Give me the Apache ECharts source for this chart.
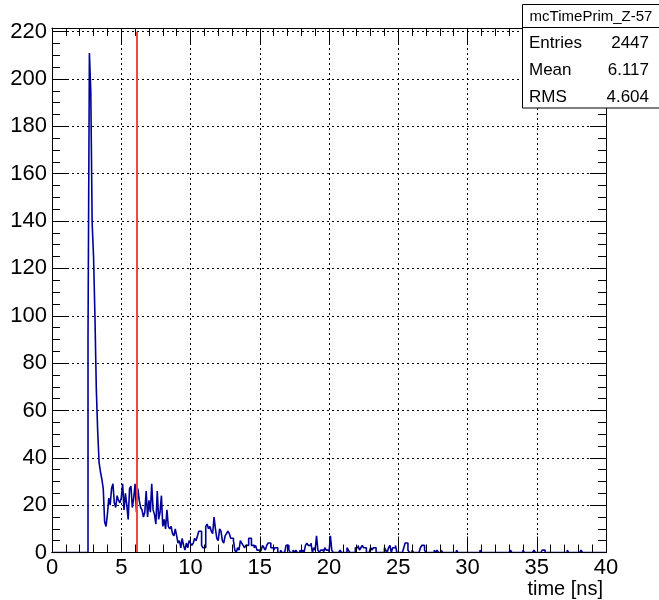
<!DOCTYPE html>
<html>
<head>
<meta charset="utf-8">
<style>
  html, body { margin: 0; padding: 0; background: #fff; }
  #chart { width: 659px; height: 600px; }
</style>
<script src="https://cdn.jsdelivr.net/npm/echarts@6/dist/echarts.min.js"></script>
</head>
<body>
<div id="chart"></div>
<script>
// histogram mcTimePrim_Z-57, 400 bins of 0.1 ns from 0 to 40 ns (one row = 1 ns)
var binWidth = 0.1;
var xMin = 0;
var counts = [].concat(
  [0,0,0,0,0,0,0,0,0,0],             // 0
  [0,0,0,0,0,0,0,0,0,0],             // 1
  [0,0,0,0,0,0,91,211,195,139],      // 2
  [125,100,69,51,38,34,31,27,13,11], // 3
  [16,23,20,27,29,21,19,24,22,21],   // 4
  [23,29,18,25,20,14,27,28,19,23],   // 5
  [29,17,27,22,19,18,15,17,26,15],   // 6
  [22,17,29,18,16,12,26,14,17,24],   // 7
  [11,14,10,18,11,10,11,8,7,10],     // 8
  [7,4,5,2,6,3,1,4,2,5],             // 9
  [4,3,4,6,5,7,9,9,3,2],             // 10
  [2,11,12,10,11,9,8,15,10,6],       // 11
  [5,10,9,5,4,7,8,9,8,6],            // 12
  [6,5,1,0,2,1,5,4,3,2],             // 13
  [3,3,6,6,3,3,2,3,1,1],             // 14
  [0,1,3,2,1,3,4,4,2,2],             // 15
  [1,2,2,0,0,1,0,0,0,3],             // 16
  [3,1,0,0,1,0,1,0,0,1],             // 17
  [0,1,0,3,4,3,3,4,0,2],             // 18
  [1,7,1,0,1,1,0,2,1,1],             // 19
  [0,7,1,0,0,0,0,0,1,0],             // 20
  [0,0,0,2,1,0,0,0,0,2],             // 21
  [2,3,1,2,3,2,2,0,0,0],             // 22
  [2,1,2,2,0,0,0,0,0,0],             // 23
  [2,1,0,2,3,0,2,2,3,0],             // 24
  [0,0,0,0,2,4,4,1,0,0],             // 25
  [1,0,0,0,0,0,2,3,3,1],             // 26
  [0,0,0,0,0,0,1,0,1,0],             // 27
  [0,1,0,0,0,0,0,0,0,0],             // 28
  [0,0,1,0,0,0,0,0,0,0],             // 29
  [0,0,0,0,0,0,0,0,0,1],             // 30
  [0,0,0,0,0,0,0,0,0,0],             // 31
  [0,0,0,0,0,0,0,0,0,0],             // 32
  [0,1,0,0,0,0,0,0,0,0],             // 33
  [1,0,0,0,0,0,0,0,1,0],             // 34
  [0,0,0,0,1,1,0,0,0,0],             // 35
  [0,0,0,0,0,0,0,0,0,0],             // 36
  [0,0,1,0,0,0,0,0,0,0],             // 37
  [0,0,1,0,0,0,0,0,0,0],             // 38
  [0,0,0,0,0,0,0,0,0,0]              // 39
);

var statsTitle = 'mcTimePrim_Z-57';
var statNames = ['Entries', 'Mean', 'RMS'];
var statValues = ['2447', '6.117', '4.604'];
var meanValue = 6.117;

var xTitle = 'time [ns]';
var xMax = 40;
var yMaxValue = 221.55;

var stepData = [];
counts.forEach(function (c, i) {
  stepData.push([xMin + i * binWidth, c]);
});
stepData.push([xMin + counts.length * binWidth, counts[counts.length - 1]]);

var font = 'Liberation Sans, Arial, Helvetica, sans-serif';
var dotted = { color: '#000', width: 1, type: [2, 3] };

// ROOT style frame axis: ticks pointing inwards, no labels by default
function frameAxis(extra) {
  var a = {
    type: 'value',
    axisLine: { show: true, onZero: false, lineStyle: { color: '#000', width: 1 } },
    axisTick: { show: true, inside: true, length: 16, lineStyle: { color: '#000' } },
    splitLine: { show: false },
    axisLabel: { show: false }
  };
  for (var k in extra) a[k] = extra[k];
  return a;
}
// short ticks only (echarts minorTick ignores inside)
function minorAxis(extra) {
  return frameAxis(Object.assign({
    axisLine: { show: false, onZero: false },
    axisTick: { show: true, inside: true, length: 8, lineStyle: { color: '#000' } }
  }, extra));
}

var chart = echarts.init(document.getElementById('chart'));
chart.setOption({
  animation: false,
  grid: { left: 52, right: 53, top: 28, bottom: 47.5 },
  xAxis: [
    frameAxis({
      position: 'bottom', min: xMin, max: xMax, interval: 5,
      splitLine: { show: true, lineStyle: dotted },
      axisLabel: { show: true, color: '#000', fontFamily: font, fontSize: 22, margin: 4 },
      name: xTitle, nameLocation: 'end', nameGap: -3,
      nameTextStyle: { color: '#000', fontFamily: font, fontSize: 20, align: 'right',
        verticalAlign: 'top', padding: [27, 0, 0, 0] }
    }),
    frameAxis({ position: 'top', min: xMin, max: xMax, interval: 5 }),
    // bottom frame line drawn over the zero-level histogram line
    minorAxis({ position: 'bottom', min: xMin, max: xMax, interval: 1, z: 5,
      axisLine: { show: true, onZero: false, lineStyle: { color: '#000', width: 1 } } }),
    minorAxis({ position: 'top', min: xMin, max: xMax, interval: 1 })
  ],
  yAxis: [
    frameAxis({
      position: 'left', min: 0, max: yMaxValue, interval: 20,
      splitLine: { show: true, lineStyle: dotted },
      axisLabel: {
        show: true, color: '#000', fontFamily: font, fontSize: 22, margin: 5,
        formatter: function (v) { return v % 20 === 0 ? String(v) : ''; }
      }
    }),
    frameAxis({ position: 'right', min: 0, max: yMaxValue, interval: 20 }),
    minorAxis({ position: 'left', min: 0, max: yMaxValue, interval: 5 }),
    minorAxis({ position: 'right', min: 0, max: yMaxValue, interval: 5 })
  ],
  series: [
    {
      type: 'line',
      step: 'end',
      data: stepData,
      symbol: 'none',
      lineStyle: { color: '#000099', width: 1.6 },
      z: 3,
      markLine: {
        silent: true,
        symbol: 'none',
        label: { show: false },
        lineStyle: { color: '#f04646', width: 2, type: 'solid' },
        data: [[{ coord: [meanValue, 0] }, { coord: [meanValue, 220] }]]
      }
    }
  ],
  graphic: [
    { type: 'rect', z: 100, shape: { x: 522.5, y: 4.5, width: 140, height: 103.5 },
      style: { fill: '#fff', stroke: '#000', lineWidth: 1 } },
    { type: 'line', z: 101, shape: { x1: 522.5, y1: 27.5, x2: 660, y2: 27.5 },
      style: { stroke: '#000', lineWidth: 1 } },
    { type: 'text', z: 101, x: 591, y: 16.5,
      style: { text: statsTitle, fill: '#000', font: '15px ' + font,
        textAlign: 'center', textVerticalAlign: 'middle' } }
  ].concat(statNames.map(function (n, i) {
    return { type: 'text', z: 101, x: 529, y: 43 + i * 27,
      style: { text: n, fill: '#000', font: '17px ' + font,
        textAlign: 'left', textVerticalAlign: 'middle' } };
  })).concat(statValues.map(function (v, i) {
    return { type: 'text', z: 101, x: 649, y: 43 + i * 27,
      style: { text: v, fill: '#000', font: '17px ' + font,
        textAlign: 'right', textVerticalAlign: 'middle' } };
  }))
});
</script>
</body>
</html>
